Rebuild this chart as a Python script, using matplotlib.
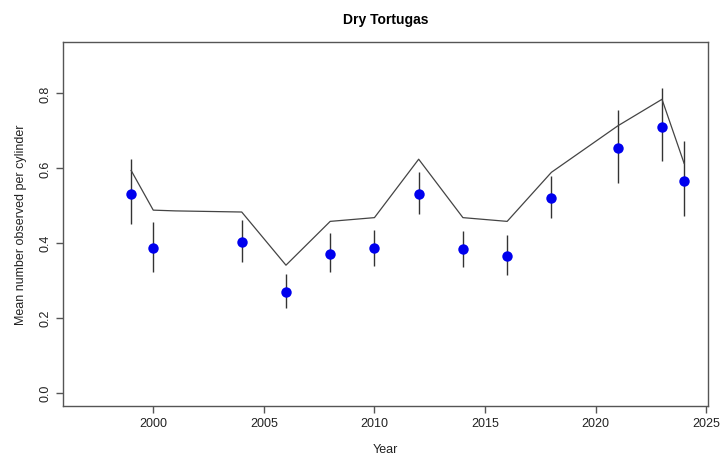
import matplotlib
matplotlib.use("Agg")
import matplotlib.pyplot as plt

years = [1999, 2000, 2004, 2006, 2008, 2010, 2012, 2014, 2016, 2018, 2021, 2023, 2024]
means = [0.531, 0.387, 0.401, 0.269, 0.371, 0.385, 0.531, 0.383, 0.365, 0.520, 0.653, 0.710, 0.566]
upper = [0.624, 0.456, 0.460, 0.317, 0.425, 0.435, 0.588, 0.431, 0.420, 0.577, 0.755, 0.812, 0.671]
lower = [0.449, 0.323, 0.348, 0.227, 0.323, 0.339, 0.478, 0.336, 0.314, 0.466, 0.559, 0.617, 0.472]

line_years = [1999, 2000, 2001, 2004, 2006, 2008, 2010, 2012, 2014, 2016, 2018, 2021, 2023, 2024]
line_vals = [0.593, 0.487, 0.485, 0.482, 0.340, 0.457, 0.467, 0.623, 0.467, 0.457, 0.588, 0.712, 0.783, 0.612]

xticks = [2000, 2005, 2010, 2015, 2020, 2025]
yticks = [0.0, 0.2, 0.4, 0.6, 0.8]

plt.rcParams['font.family'] = ['Liberation Sans', 'DejaVu Sans']

fig = plt.figure(figsize=(7.2, 4.6), dpi=100)
ax = fig.add_axes([63/720, 1-407/460, (708-63)/720, (407-43)/460])

ax.vlines(years, lower, upper, color='#333333', linewidth=1.0)
ax.plot(line_years, line_vals, color='#444444', linewidth=0.9)
ax.plot(years, means, 'o', color='#0000ee', markersize=7.5, markeredgewidth=0)

x0, x1 = 1997, 2024
ax.set_xlim(x0 - 0.04*(x1-x0), x1 + 0.04*(x1-x0))
ax.set_ylim(-0.036, 0.936)

ax.set_xticks(xticks)
ax.set_xticklabels([str(t) for t in xticks])
ax.set_yticks(yticks)
ax.set_yticklabels([f"{t:.1f}" for t in yticks], rotation=90, va='center')

for s in ax.spines.values():
    s.set_color('#555555')
    s.set_linewidth(1.0)
ax.tick_params(axis='both', colors='#555555', labelcolor='#222222', length=5, width=1.0,
               labelsize=9, pad=3)

ax.set_xlabel('Year', fontsize=9, color='#222222', labelpad=10)
ax.set_ylabel('Mean number observed per cylinder', fontsize=9, color='#222222', labelpad=9)
ax.set_title('Dry Tortugas', fontsize=10, fontweight='bold', pad=14)

fig.savefig('out.png', dpi=100)
